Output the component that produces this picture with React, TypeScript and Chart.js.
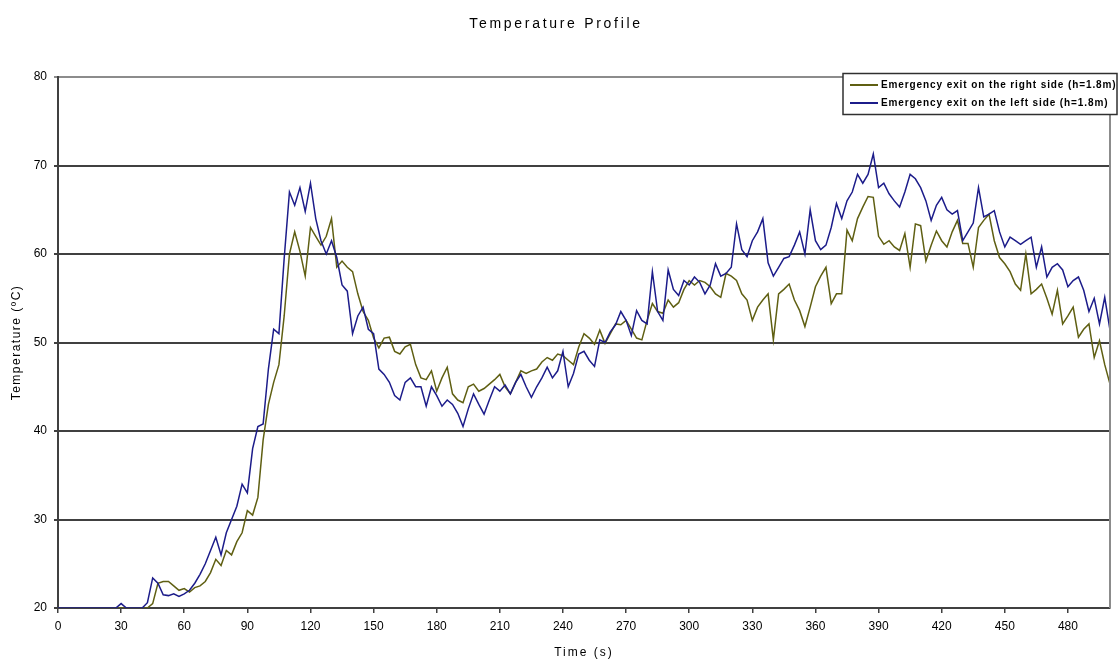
import { useEffect, useRef } from "react";
import { Chart, registerables } from "chart.js";

Chart.register(...registerables);

// Sample times (s), one reading every 2.5 s
const TIME_S = [
  0, 2.5, 5, 7.5, 10, 12.5, 15, 17.5, 20, 22.5,
  25, 27.5, 30, 32.5, 35, 37.5, 40, 42.5, 45, 47.5,
  50, 52.5, 55, 57.5, 60, 62.5, 65, 67.5, 70, 72.5,
  75, 77.5, 80, 82.5, 85, 87.5, 90, 92.5, 95, 97.5,
  100, 102.5, 105, 107.5, 110, 112.5, 115, 117.5, 120, 122.5,
  125, 127.5, 130, 132.5, 135, 137.5, 140, 142.5, 145, 147.5,
  150, 152.5, 155, 157.5, 160, 162.5, 165, 167.5, 170, 172.5,
  175, 177.5, 180, 182.5, 185, 187.5, 190, 192.5, 195, 197.5,
  200, 202.5, 205, 207.5, 210, 212.5, 215, 217.5, 220, 222.5,
  225, 227.5, 230, 232.5, 235, 237.5, 240, 242.5, 245, 247.5,
  250, 252.5, 255, 257.5, 260, 262.5, 265, 267.5, 270, 272.5,
  275, 277.5, 280, 282.5, 285, 287.5, 290, 292.5, 295, 297.5,
  300, 302.5, 305, 307.5, 310, 312.5, 315, 317.5, 320, 322.5,
  325, 327.5, 330, 332.5, 335, 337.5, 340, 342.5, 345, 347.5,
  350, 352.5, 355, 357.5, 360, 362.5, 365, 367.5, 370, 372.5,
  375, 377.5, 380, 382.5, 385, 387.5, 390, 392.5, 395, 397.5,
  400, 402.5, 405, 407.5, 410, 412.5, 415, 417.5, 420, 422.5,
  425, 427.5, 430, 432.5, 435, 437.5, 440, 442.5, 445, 447.5,
  450, 452.5, 455, 457.5, 460, 462.5, 465, 467.5, 470, 472.5,
  475, 477.5, 480, 482.5, 485, 487.5, 490, 492.5, 495, 497.5,
  500,
];

// Temperature (°C) at the right-side emergency exit
const RIGHT_EXIT_C = [
  20, 20, 20, 20, 20, 20, 20, 20, 20, 20,
  20, 20, 20, 20, 20, 20, 20, 20, 20.5, 22.8,
  23.0, 23.0, 22.5, 22.0, 22.2, 21.8, 22.3, 22.5, 23.0, 24.0,
  25.5, 24.8, 26.5, 26.0, 27.5, 28.5, 31.0, 30.5, 32.5, 39.0,
  43.0, 45.5, 47.5, 53.0, 60.0, 62.5, 60.3, 57.5, 63.0, 62.0,
  61.0, 62.0, 64.0, 58.5, 59.2, 58.5, 58.0, 55.5, 53.5, 52.5,
  50.5, 49.4, 50.5, 50.6, 49.0, 48.7, 49.5, 49.8, 47.5, 46.0,
  45.8, 46.8, 44.5, 46.0, 47.2, 44.2, 43.5, 43.2, 45.0, 45.3,
  44.5, 44.8, 45.3, 45.8, 46.4, 45.0, 44.2, 45.5, 46.8, 46.5,
  46.8, 47.0, 47.8, 48.3, 48.0, 48.7, 48.5, 48.0, 47.5, 49.5,
  51.0, 50.5, 49.8, 51.4, 49.9, 51.0, 52.1, 52.0, 52.5, 51.5,
  50.5, 50.3, 52.5, 54.4, 53.5, 53.3, 54.8, 54.0, 54.5, 56.0,
  57.0, 56.5, 57.0, 56.8, 56.3, 55.5, 55.1, 57.8, 57.5, 57.0,
  55.5, 54.8, 52.5, 54.0, 54.8, 55.5, 50.3, 55.5, 56.0, 56.6,
  54.8, 53.6, 51.8, 54.0, 56.3, 57.5, 58.5, 54.4, 55.5, 55.5,
  62.7, 61.5, 64.0, 65.3, 66.5, 66.4, 62.0, 61.1, 61.5, 60.8,
  60.4, 62.3, 58.5, 63.4, 63.2, 59.2, 61.0, 62.6, 61.5, 60.8,
  62.5, 63.8, 61.2, 61.2, 58.5, 63.0, 63.8, 64.5, 61.5, 59.6,
  58.9, 58.0, 56.6, 55.9, 60.0, 55.5, 56.0, 56.6, 55.0, 53.2,
  55.9, 52.1, 53.0, 54.0, 50.6, 51.5, 52.1, 48.3, 50.2, 47.5,
  45.3,
];

// Temperature (°C) at the left-side emergency exit
const LEFT_EXIT_C = [
  20, 20, 20, 20, 20, 20, 20, 20, 20, 20,
  20, 20, 20.5, 20, 20, 20, 20, 20.6, 23.4, 22.8,
  21.5, 21.4, 21.6, 21.3, 21.6, 22.0, 22.8, 23.8, 25.0, 26.5,
  28.0, 26.0, 28.5, 30.0, 31.5, 34.0, 33.0, 38.0, 40.5, 40.8,
  47.0, 51.5, 51.0, 59.5, 67.0, 65.5, 67.5, 64.8, 68.0, 64.0,
  61.5, 60.0, 61.5, 59.6, 56.5, 55.8, 51.0, 53.0, 54.0, 51.5,
  51.0, 47.0, 46.4, 45.5, 44.0, 43.5, 45.5, 46.0, 45.0, 45.0,
  42.8, 45.0, 44.0, 42.8, 43.5, 43.0, 42.0, 40.5, 42.5, 44.2,
  43.0, 41.9, 43.5, 45.0, 44.5, 45.2, 44.2, 45.5, 46.4, 45.0,
  43.8, 45.0, 46.0, 47.2, 46.0, 46.8, 49.0, 45.0, 46.5, 48.7,
  49.0, 48.0, 47.3, 50.3, 50.0, 51.2, 52.0, 53.5, 52.5, 50.8,
  53.6, 52.5, 52.1, 58.0, 53.5, 52.5, 58.2, 56.0, 55.3, 57.0,
  56.5, 57.4, 56.8, 55.5, 56.5, 58.9, 57.5, 57.8, 58.5, 63.4,
  60.5, 59.7, 61.5, 62.5, 64.0, 59.0, 57.5, 58.5, 59.5, 59.7,
  61.0, 62.5, 60.0, 65.0, 61.5, 60.5, 61.0, 63.0, 65.7, 64.0,
  66.0, 67.0, 69.0, 68.0, 69.0, 71.3, 67.5, 68.0, 66.8, 66.0,
  65.3, 67.0, 69.0, 68.5, 67.5, 66.0, 63.8, 65.5, 66.4, 65.0,
  64.5, 64.9, 61.5, 62.5, 63.5, 67.5, 64.2, 64.5, 64.9, 62.5,
  60.8, 61.9, 61.5, 61.1, 61.5, 61.9, 58.5, 60.8, 57.4, 58.5,
  58.9, 58.2, 56.3, 57.0, 57.4, 55.9, 53.5, 55.0, 52.1, 55.1,
  51.4,
];

const X_TICKS = [0, 30, 60, 90, 120, 150, 180, 210, 240, 270, 300, 330, 360, 390, 420, 450, 480];
const Y_TICKS = [20, 30, 40, 50, 60, 70, 80];

const SERIES_NAMES = [
  "Emergency exit on the right side (h=1.8m)",
  "Emergency exit on the left side (h=1.8m)",
];
const SERIES_COLORS = ["#5f5f12", "#1c1c8a"];

const CHART_TITLE = "Temperature Profile";
const X_TITLE = "Time (s)";
const Y_TITLE = "Temperature (ºC)";

const FONT = "'Liberation Sans', Arial, sans-serif";
const GRID_DARK = "#404040";
const FRAME_GREY = "#8c8c8c";

// Titles, plot frame and the boxed legend, drawn on top of the chart
const decorPlugin = {
  id: "decor",
  afterDraw(chart: any) {
    const { ctx, chartArea } = chart;
    ctx.save();

    // right edge of the plot frame
    ctx.strokeStyle = FRAME_GREY;
    ctx.lineWidth = 2;
    ctx.beginPath();
    ctx.moveTo(chartArea.right, chartArea.top);
    ctx.lineTo(chartArea.right, chartArea.bottom);
    ctx.stroke();

    ctx.fillStyle = "#000";

    // chart title
    ctx.font = `14px ${FONT}`;
    ctx.letterSpacing = "2.7px";
    ctx.textAlign = "center";
    ctx.textBaseline = "alphabetic";
    ctx.fillText(CHART_TITLE, 556, 28);

    // x axis title
    ctx.font = `12px ${FONT}`;
    ctx.letterSpacing = "2px";
    ctx.fillText(X_TITLE, (chartArea.left + chartArea.right) / 2, 656);

    // y axis title
    ctx.save();
    ctx.translate(17, (chartArea.top + chartArea.bottom) / 2);
    ctx.rotate(-Math.PI / 2);
    ctx.letterSpacing = "1.5px";
    ctx.textBaseline = "middle";
    ctx.fillText(Y_TITLE, 0, 0);
    ctx.restore();

    // legend box
    const bx = 843, by = 73.5, bw = 274, bh = 41;
    ctx.fillStyle = "#fff";
    ctx.fillRect(bx, by, bw, bh);
    ctx.strokeStyle = "#303030";
    ctx.lineWidth = 1.5;
    ctx.strokeRect(bx, by, bw, bh);

    const rows = [85, 103];
    ctx.font = `bold 10px ${FONT}`;
    ctx.letterSpacing = "0.9px";
    ctx.textAlign = "left";
    ctx.textBaseline = "middle";
    SERIES_NAMES.forEach((name, i) => {
      ctx.strokeStyle = SERIES_COLORS[i];
      ctx.lineWidth = 2;
      ctx.beginPath();
      ctx.moveTo(850, rows[i]);
      ctx.lineTo(878, rows[i]);
      ctx.stroke();
      ctx.fillStyle = "#000";
      ctx.fillText(name, 881, rows[i]);
    });

    ctx.letterSpacing = "0px";
    ctx.restore();
  },
};

export default function App() {
  const canvasRef = useRef<HTMLCanvasElement>(null);

  useEffect(() => {
    const canvas = canvasRef.current;
    if (!canvas) return;

    const rightPoints = TIME_S.map((t, i) => ({ x: t, y: RIGHT_EXIT_C[i] }));
    const leftPoints = TIME_S.map((t, i) => ({ x: t, y: LEFT_EXIT_C[i] }));

    const chart = new Chart(canvas, {
      type: "line",
      data: {
        datasets: [
          {
            label: SERIES_NAMES[0],
            data: rightPoints,
            borderColor: SERIES_COLORS[0],
            backgroundColor: SERIES_COLORS[0],
            borderWidth: 1.5,
            pointRadius: 0,
            tension: 0,
            order: 1,
          },
          {
            label: SERIES_NAMES[1],
            data: leftPoints,
            borderColor: SERIES_COLORS[1],
            backgroundColor: SERIES_COLORS[1],
            borderWidth: 1.5,
            pointRadius: 0,
            tension: 0,
            order: 0,
          },
        ],
      },
      options: {
        responsive: false,
        animation: false,
        devicePixelRatio: 1,
        layout: { padding: { top: 77, right: 9, bottom: 0, left: 0 } },
        plugins: {
          legend: { display: false },
          title: { display: false },
          tooltip: { enabled: false },
        },
        scales: {
          x: {
            type: "linear",
            position: "bottom",
            min: 0,
            max: 500,
            afterBuildTicks: (scale: any) => {
              scale.ticks = X_TICKS.map((v) => ({ value: v }));
            },
            afterFit: (scale: any) => {
              scale.height = 54;
            },
            ticks: {
              autoSkip: false,
              maxRotation: 0,
              padding: 6,
              color: "#000",
              font: { family: FONT, size: 12 },
            },
            grid: {
              display: true,
              drawOnChartArea: false,
              drawTicks: true,
              tickLength: 5,
              color: GRID_DARK,
              lineWidth: 1.5,
            },
            border: { display: true, color: GRID_DARK, width: 2 },
            title: { display: false },
          },
          y: {
            type: "linear",
            min: 20,
            max: 80,
            afterBuildTicks: (scale: any) => {
              scale.ticks = Y_TICKS.map((v) => ({ value: v }));
            },
            afterFit: (scale: any) => {
              scale.width = 58;
            },
            ticks: {
              padding: 7,
              color: "#000",
              font: { family: FONT, size: 12 },
            },
            grid: {
              display: true,
              drawOnChartArea: true,
              drawTicks: true,
              tickLength: 4,
              color: (ctx: any) => (ctx.tick && ctx.tick.value === 80 ? FRAME_GREY : GRID_DARK),
              lineWidth: 2,
            },
            border: { display: true, color: GRID_DARK, width: 2 },
            title: { display: false },
          },
        },
      },
      plugins: [decorPlugin],
    });

    return () => chart.destroy();
  }, []);

  return (
    <div
      style={{
        position: "absolute",
        left: 0,
        top: 0,
        width: 1119,
        height: 662,
        background: "#fff",
      }}
    >
      <canvas
        ref={canvasRef}
        width={1119}
        height={662}
        style={{ display: "block", width: 1119, height: 662 }}
      />
    </div>
  );
}
